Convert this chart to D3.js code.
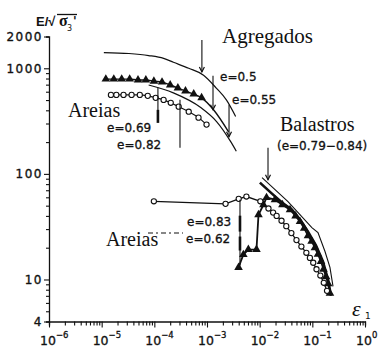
<!DOCTYPE html>
<html>
<head>
<meta charset="utf-8">
<script src="https://cdn.jsdelivr.net/npm/d3@7"></script>
<style>
  body { margin: 0; background: #fff; }
  svg { display: block; }
</style>
</head>
<body>
<script>
// ---- data: strain eps1 vs E/sqrt(sigma3') ----
const xTickExps = [-6, -5, -4, -3, -2, -1, 0];
const yTickLabels = [2000, 1000, 100, 10, 4];

// Agregados
const agrTopEps = [1.1e-5, 3.3e-5, 7.8e-5, 1.5e-4, 2.3e-4, 4.5e-4, 8.6e-4, 1.5e-3, 2.35e-3, 3.5e-3];
const agrTopVal = [1410, 1380, 1320, 1240, 1140, 1000, 860, 650, 500, 350];
const agrTriEps = [1.2e-5, 1.7e-5, 2.4e-5, 3.4e-5, 4.9e-5, 6.9e-5, 9.8e-5, 1.4e-4, 2.0e-4, 2.8e-4, 3.9e-4, 5.6e-4, 7.9e-4, 1.33e-3, 2.57e-3];
const agrTriVal = [790, 790, 790, 790, 775, 775, 755, 740, 695, 650, 610, 570, 525, 405, 250];
const agrMidEps = [7.8e-5, 2.3e-4, 7.6e-4, 1.52e-3, 2.8e-3, 3.6e-3];
const agrMidVal = [695, 585, 425, 313, 203, 164];

// Areias (upper)
const areCircEps = [1.5e-5, 1.9e-5, 2.6e-5, 3.7e-5, 5.3e-5, 7.5e-5, 1.06e-4, 1.5e-4, 2.05e-4, 2.9e-4, 4.5e-4, 6.9e-4, 9.8e-4];
const areCircVal = [560, 560, 560, 560, 560, 548, 525, 502, 471, 433, 388, 341, 293];

// Areias (lower)
const lowCircEps = [9.8e-5, 2.25e-3, 4.0e-3, 5.6e-3, 1.03e-2, 1.47e-2, 1.8e-2, 2.1e-2, 2.6e-2, 3.2e-2, 4.0e-2, 5.0e-2, 6.2e-2, 7.7e-2, 9.0e-2, 0.104, 0.12, 0.142, 0.165, 0.19];
const lowCircVal = [55, 52, 58, 61, 55, 47, 43, 40, 36, 32, 27.5, 23.6, 20.5, 17.9, 16, 14.4, 12.5, 10.9, 9.3, 7.8];
const lowTriEps = [3.97e-3, 4.9e-3, 6.1e-3, 8.7e-3, 9.5e-3, 1.18e-2, 1.35e-2, 1.95e-2, 2.7e-2, 3.77e-2, 4.8e-2, 5.83e-2, 7.0e-2, 8.27e-2, 9.7e-2, 0.112, 0.128, 0.146, 0.163, 0.182, 0.2, 0.216];
const lowTriVal = [13, 17.2, 19.2, 19.2, 41, 51, 59.6, 57, 51, 45.8, 40, 35.3, 30.5, 26, 23, 20, 17.3, 14.8, 12.5, 10.6, 9.1, 7.4];

// Balastros
const balThinEps = [1.11e-2, 3.45e-2, 9.8e-2, 0.128, 0.174, 0.216, 0.247];
const balThinVal = [92, 54.6, 31, 27.8, 18.4, 13, 8.6];
const balOpenEps = [1.01e-2, 1.71e-2, 2.65e-2, 4.11e-2, 5.83e-2, 8.27e-2, 0.117, 0.159, 0.198, 0.226];
const balOpenVal = [82.6, 65, 53.5, 45.8, 36.9, 28.4, 21, 14.8, 10, 7.0];

// annotation arrows (eps, from, to)
const arrowEps  = [8.0e-4, 1.30e-3, 2.62e-3, 1.17e-4, 3.07e-4, 1.44e-2, 4.23e-3];
const arrowFrom = [1854, 849, 452, 655, 504, 177, 57];
const arrowTo   = [923, 405, 225, 312, 177, 88, 13.6];

const width = 384;
const height = 347;

const x = d3.scaleLog().domain([1e-6, 1]).range([49, 365]);
const y = d3.scaleLog().domain([4, 2000]).range([321.5, 36.5]);

const svg = d3.select("body").append("svg")
  .attr("width", width)
  .attr("height", height)
  .attr("viewBox", [0, 0, width, height]);

svg.append("rect").attr("width", width).attr("height", height).attr("fill", "#fff");

const ink = "#111";
const sans = "'DejaVu Sans', sans-serif";
const serif = "'Liberation Serif', 'Times New Roman', serif";

// ---- axes ----
const yTicks = [];
[1, 10, 100, 1000].forEach(dec => {
  for (let m = 1; m <= 9; m++) {
    const v = m * dec;
    if (v >= 4 && v <= 2000) yTicks.push(v);
  }
});
const xTicks = [];
xTickExps.forEach(e => {
  for (let m = 1; m <= 9; m++) {
    const v = m * Math.pow(10, e);
    if (v <= 1.0001) xTicks.push(v);
  }
});
const isMajorX = d => Math.abs(Math.log10(d) - Math.round(Math.log10(d))) < 1e-6;

const yAxis = d3.axisLeft(y)
  .tickValues(yTicks)
  .tickSizeOuter(0)
  .tickSize(3)
  .tickFormat(d => yTickLabels.includes(d) ? d : "");

svg.append("g")
  .attr("transform", "translate(49,0)")
  .call(yAxis)
  .call(g => g.select(".domain").attr("stroke", ink).attr("stroke-width", 1.3))
  .call(g => g.selectAll(".tick line")
    .attr("stroke", ink)
    .attr("stroke-width", 1.1)
    .attr("x2", d => yTickLabels.includes(d) ? -5 : -3))
  .call(g => g.selectAll(".tick text")
    .attr("x", -6)
    .attr("fill", ink)
    .attr("stroke", ink)
    .attr("stroke-width", 0.35)
    .style("font-family", sans)
    .style("font-size", "12px")
    .style("letter-spacing", "1.5px"));

const xAxis = d3.axisBottom(x)
  .tickValues(xTicks)
  .tickSizeOuter(0)
  .tickSize(4)
  .tickFormat(() => "");

svg.append("g")
  .attr("transform", `translate(0,${y(4)})`)
  .call(xAxis)
  .call(g => g.select(".domain").attr("stroke", ink).attr("stroke-width", 1.3))
  .call(g => g.selectAll(".tick line")
    .attr("stroke", ink)
    .attr("stroke-width", 1.1)
    .attr("y2", d => isMajorX(d) ? 6 : 4));

// x tick labels 10^n
const xl = svg.append("g").selectAll("text")
  .data(xTickExps)
  .join("text")
  .attr("x", e => x(Math.pow(10, e)) - 9)
  .attr("y", 345)
  .attr("fill", ink)
  .attr("stroke", ink)
  .attr("stroke-width", 0.3)
  .style("font-family", sans)
  .style("font-size", "12.5px");
xl.append("tspan").text("10");
xl.append("tspan")
  .attr("dy", -7)
  .style("font-size", "8.5px")
  .text(e => e === 0 ? "0" : "\u2212" + Math.abs(e));

// axis titles
svg.append("text")
  .attr("x", 352).attr("y", 316)
  .attr("fill", ink)
  .style("font-family", serif)
  .style("font-size", "22px")
  .style("font-style", "italic")
  .text("\u03b5");
svg.append("text")
  .attr("x", 365).attr("y", 319)
  .attr("fill", ink)
  .style("font-family", sans)
  .style("font-size", "9px")
  .text("1");

svg.append("text")
  .attr("x", 36).attr("y", 26)
  .attr("fill", ink)
  .style("font-family", "'Liberation Sans', Arial, sans-serif")
  .style("font-weight", "bold")
  .style("font-size", "13px")
  .text("E/\u221a");
svg.append("line")
  .attr("x1", 57).attr("x2", 77).attr("y1", 14.5).attr("y2", 14.5)
  .attr("stroke", ink).attr("stroke-width", 1.3);
svg.append("text")
  .attr("x", 59).attr("y", 26)
  .attr("fill", ink)
  .style("font-family", serif)
  .style("font-weight", "bold")
  .style("font-size", "16px")
  .text("\u03c3");
svg.append("text")
  .attr("x", 67).attr("y", 31)
  .attr("fill", ink)
  .style("font-family", sans)
  .style("font-size", "8px")
  .text("3");
svg.append("text")
  .attr("x", 73).attr("y", 25)
  .attr("fill", ink)
  .style("font-family", sans)
  .style("font-weight", "bold")
  .style("font-size", "12px")
  .text("'");

// ---- series ----
const zip = (a, b) => a.map((v, i) => [v, b[i]]);
const series = [
  { pts: zip(agrTopEps, agrTopVal), mark: null, sw: 1.2, curve: d3.curveMonotoneX },
  { pts: zip(agrTriEps, agrTriVal), mark: "tri", nMark: 13, sw: 1.4, curve: d3.curveMonotoneX },
  { pts: zip(agrMidEps, agrMidVal), mark: null, sw: 1.2, curve: d3.curveMonotoneX },
  { pts: zip(areCircEps, areCircVal), mark: "circ", sw: 1.2, curve: d3.curveMonotoneX },
  { pts: zip(balThinEps, balThinVal), mark: null, sw: 1.1, curve: d3.curveLinear },
  { pts: zip(balOpenEps, balOpenVal), mark: null, sw: 2.6, curve: d3.curveLinear },
  { pts: zip(lowTriEps, lowTriVal), mark: "tri", sw: 1.8, curve: d3.curveLinear },
  { pts: zip(lowCircEps, lowCircVal), mark: "circ", sw: 1.3, curve: d3.curveLinear }
];

const line = d3.line().x(d => x(d[0])).y(d => y(d[1]));

series.forEach(s => {
  svg.append("path")
    .attr("d", line.curve(s.curve)(s.pts))
    .attr("fill", "none")
    .attr("stroke", ink)
    .attr("stroke-width", s.sw);
  if (!s.mark) return;
  const pts = s.nMark ? s.pts.slice(0, s.nMark) : s.pts;
  if (s.mark === "tri") {
    svg.append("g").selectAll("path")
      .data(pts)
      .join("path")
      .attr("transform", d => `translate(${x(d[0])},${y(d[1])})`)
      .attr("d", d3.symbol(d3.symbolTriangle).size(32))
      .attr("fill", ink);
  } else {
    svg.append("g").selectAll("circle")
      .data(pts)
      .join("circle")
      .attr("cx", d => x(d[0]))
      .attr("cy", d => y(d[1]))
      .attr("r", 2.6)
      .attr("fill", "#fff")
      .attr("stroke", ink)
      .attr("stroke-width", 1.1);
  }
});

// ---- annotation arrows ----
arrowEps.forEach((e, i) => {
  const ax = x(e), y1 = y(arrowFrom[i]), y2 = y(arrowTo[i]);
  svg.append("line")
    .attr("x1", ax).attr("x2", ax).attr("y1", y1).attr("y2", y2)
    .attr("stroke", ink).attr("stroke-width", 1.1);
  if ([0, 1, 2, 5].includes(i)) {
    svg.append("path")
      .attr("d", `M${ax - 2.5},${y2 - 5}L${ax},${y2}L${ax + 2.5},${y2 - 5}`)
      .attr("fill", "none").attr("stroke", ink).attr("stroke-width", 1.2);
  }
});
// heavy segments on the Areias arrows
[[3, 404, 304], [6, 40.2, 28.4], [6, 25.5, 18.8]].forEach(([i, a, b]) => {
  svg.append("line")
    .attr("x1", x(arrowEps[i])).attr("x2", x(arrowEps[i]))
    .attr("y1", y(a)).attr("y2", y(b))
    .attr("stroke", ink).attr("stroke-width", 2.6);
});

// dash-dot key line next to lower "Areias"
svg.append("line")
  .attr("x1", 148).attr("x2", 183).attr("y1", 233).attr("y2", 233)
  .attr("stroke", ink).attr("stroke-width", 1.1)
  .attr("stroke-dasharray", "5,3,2,3");

// ---- labels ----
const labels = [
  { t: "Agregados", x: 222, y: 43, f: serif, s: 21 },
  { t: "e=0.5", x: 220, y: 81, f: sans, s: 12 },
  { t: "e=0.55", x: 232, y: 104, f: sans, s: 12 },
  { t: "Areias", x: 68, y: 117, f: serif, s: 20 },
  { t: "e=0.69", x: 107, y: 132, f: sans, s: 12 },
  { t: "e=0.82", x: 117, y: 149, f: sans, s: 12 },
  { t: "Balastros", x: 280, y: 131, f: serif, s: 20 },
  { t: "(e=0.79\u22120.84)", x: 277, y: 150, f: sans, s: 12 },
  { t: "e=0.83", x: 187, y: 226, f: sans, s: 12 },
  { t: "e=0.62", x: 186, y: 243, f: sans, s: 12 },
  { t: "Areias", x: 106, y: 246, f: serif, s: 20 }
];
svg.append("g").selectAll("text")
  .data(labels)
  .join("text")
  .attr("x", d => d.x)
  .attr("y", d => d.y)
  .attr("fill", ink)
  .attr("stroke", d => d.f === sans ? ink : "none")
  .attr("stroke-width", 0.3)
  .style("font-family", d => d.f)
  .style("font-size", d => d.s + "px")
  .text(d => d.t);
</script>
</body>
</html>
